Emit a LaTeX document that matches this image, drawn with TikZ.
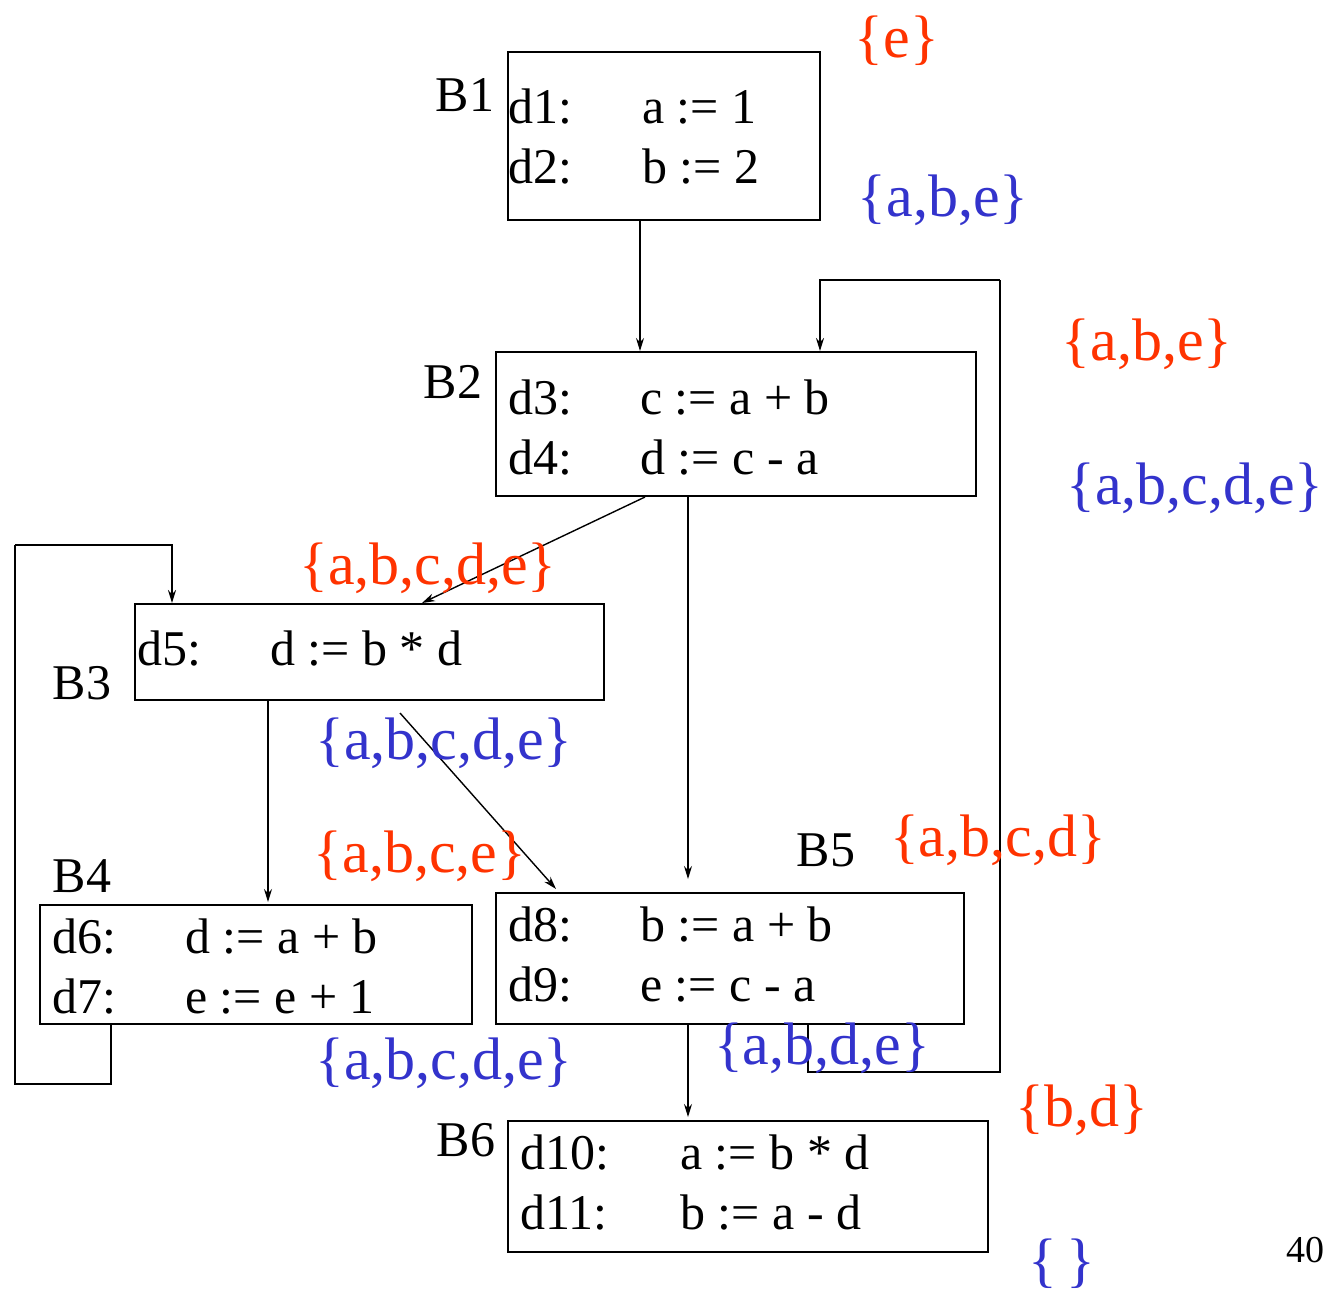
\documentclass[tikz,border=0pt]{standalone}
\usepackage{fontspec}
\setmainfont{Liberation Serif}
\usetikzlibrary{arrows.meta}
\definecolor{genred}{RGB}{255,51,0}
\definecolor{outblue}{RGB}{51,51,204}
\begin{document}
\begin{tikzpicture}[x=1pt,y=-1pt,
  blk/.style={draw,line width=2pt,inner sep=0pt},
  arr/.style={line width=1.4pt,-{Stealth[length=13pt,width=8pt]}},
  loopline/.style={line width=2pt},
  stmt/.style={anchor=base west,inner sep=0pt,font=\fontsize{50}{60}\selectfont},
  blabel/.style={inner sep=0pt,font=\fontsize{50}{60}\selectfont},
  genset/.style={inner sep=0pt,text=genred,font=\fontsize{60}{72}\selectfont},
  outset/.style={inner sep=0pt,text=outblue,font=\fontsize{60}{72}\selectfont}]
\useasboundingbox[fill=white] (0,0) rectangle (1335,1294);

% basic blocks
\node[blk,minimum width=312pt,minimum height=168pt] (B1) at (664,136) {};
\node[blk,minimum width=480pt,minimum height=144pt] (B2) at (736,424) {};
\node[blk,minimum width=469pt,minimum height=96pt] (B3) at (369.5,652) {};
\node[blk,minimum width=432pt,minimum height=119pt] (B4) at (256,964.5) {};
\node[blk,minimum width=468pt,minimum height=131pt] (B5) at (730,958.5) {};
\node[blk,minimum width=480pt,minimum height=131pt] (B6) at (748,1186.5) {};

% block names
\node[blabel] (nB1) at (465,95) {B1};
\node[blabel] (nB2) at (453,382) {B2};
\node[blabel] (nB3) at (82,683) {B3};
\node[blabel] (nB4) at (82,876) {B4};
\node[blabel] (nB5) at (826,850) {B5};
\node[blabel] (nB6) at (466,1140) {B6};

% statements
\node[stmt] (d1l) at (508,123) {d1:};
\node[stmt] (d1r) at (642,123) {a := 1};
\node[stmt] (d2l) at (508,183) {d2:};
\node[stmt] (d2r) at (642,183) {b := 2};
\node[stmt] (d3l) at (508,414) {d3:};
\node[stmt] (d3r) at (640,414) {c := a + b};
\node[stmt] (d4l) at (508,474) {d4:};
\node[stmt] (d4r) at (640,474) {d := c - a};
\node[stmt] (d5l) at (137,665) {d5:};
\node[stmt] (d5r) at (270,665) {d := b * d};
\node[stmt] (d6l) at (52,953) {d6:};
\node[stmt] (d6r) at (185,953) {d := a + b};
\node[stmt] (d7l) at (52,1013) {d7:};
\node[stmt] (d7r) at (185,1013) {e := e + 1};
\node[stmt] (d8l) at (508,941) {d8:};
\node[stmt] (d8r) at (640,941) {b := a + b};
\node[stmt] (d9l) at (508,1001) {d9:};
\node[stmt] (d9r) at (640,1001) {e := c - a};
\node[stmt] (d10l) at (520,1169) {d10:};
\node[stmt] (d10r) at (680,1169) {a := b * d};
\node[stmt] (d11l) at (520,1229) {d11:};
\node[stmt] (d11r) at (680,1229) {b := a - d};

% edges
\draw[arr] ([xshift=-24pt]B1.south) -- ([xshift=-96pt]B2.north);
\draw[arr] ([xshift=-91pt]B2.south) -- ([xshift=52.5pt]B3.north);
\draw[arr] ([xshift=-48pt]B2.south) -- ([xshift=-42pt,yshift=13pt]B5.north);
\draw[arr] ([xshift=-101.5pt]B3.south) -- ([xshift=12pt,yshift=2pt]B4.north);
\draw[arr] ([xshift=30.5pt,yshift=-12pt]B3.south) -- ([xshift=-174pt,yshift=3pt]B5.north);
\draw[arr] ([xshift=-42pt]B5.south) -- ([xshift=-60pt,yshift=3pt]B6.north);

% back edge B5 -> B2
\coordinate (r1) at (1000,1072);
\coordinate (r2) at (1000,280);
\draw[loopline] ([xshift=78pt]B5.south) |- (r1) -- (r2);
\draw[arr,line width=2pt] (r2) -| ([xshift=84pt]B2.north);

% back edge B4 -> B3
\coordinate (l1) at (15,1084);
\coordinate (l2) at (15,545);
\draw[loopline] ([xshift=-145pt]B4.south) |- (l1) -- (l2);
\draw[arr,line width=2pt] (l2) -| ([xshift=-197.5pt]B3.north);

% reaching-definition sets
\node[genset] (gB1) at (897,41) {\{e\}};
\node[outset] (oB1) at (943,200) {\{a,b,e\}};
\node[genset] (gB2) at (1147,344) {\{a,b,e\}};
\node[outset] (oB2) at (1195,488) {\{a,b,c,d,e\}};
\node[genset] (gB3) at (428,568) {\{a,b,c,d,e\}};
\node[outset] (oB3) at (444,743) {\{a,b,c,d,e\}};
\node[genset] (gB4) at (420,856) {\{a,b,c,e\}};
\node[outset] (oB4) at (444,1063) {\{a,b,c,d,e\}};
\node[genset] (gB5) at (998,840) {\{a,b,c,d\}};
\node[outset] (oB5) at (822,1048) {\{a,b,d,e\}};
\node[genset] (gB6) at (1082,1110) {\{b,d\}};
\node[outset] (oB6) at (1062,1264) {\{\,\}};

\node[inner sep=0pt,font=\fontsize{38}{44}\selectfont] (page) at (1305,1250) {40};
\end{tikzpicture}
\end{document}
